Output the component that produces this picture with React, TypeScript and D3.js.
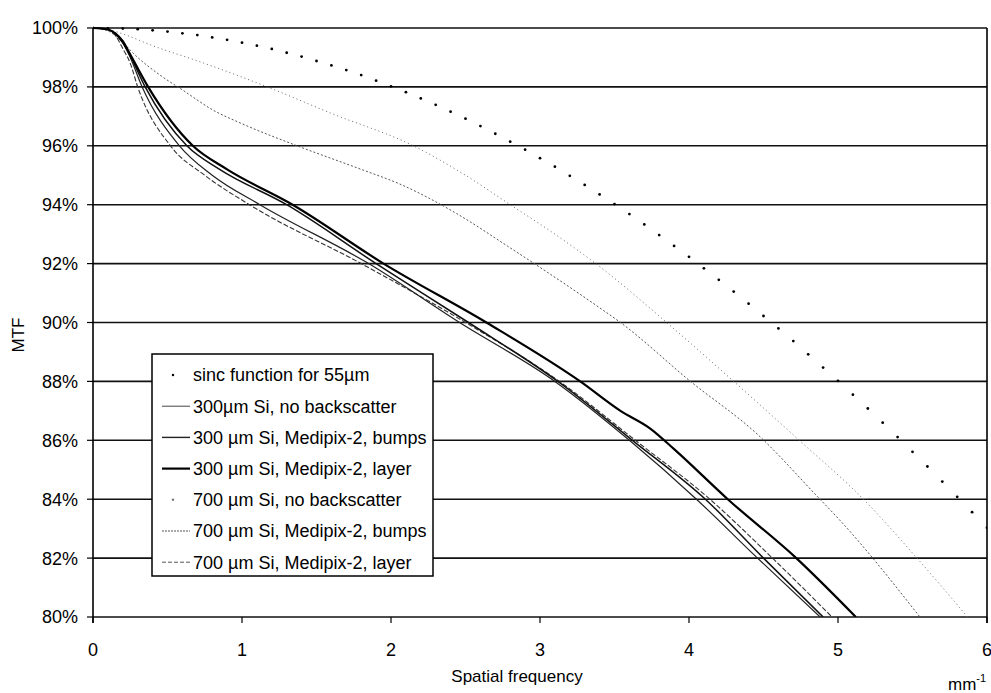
import React, { useEffect, useRef } from 'react'
import * as d3 from 'd3'

// axis ticks
const xTicks = [0, 1, 2, 3, 4, 5, 6]
const yTicks = [80, 82, 84, 86, 88, 90, 92, 94, 96, 98, 100]

// sinc function for 55um (dots)
const sincFreq = [0, 0.1, 0.2, 0.3, 0.4, 0.5, 0.6, 0.7, 0.8, 0.9, 1.0, 1.1, 1.2, 1.3, 1.4, 1.5, 1.6, 1.7, 1.8, 1.9,
  2.0, 2.1, 2.2, 2.3, 2.4, 2.5, 2.6, 2.7, 2.8, 2.9, 3.0, 3.1, 3.2, 3.3, 3.4, 3.5, 3.6, 3.7, 3.8, 3.9,
  4.0, 4.1, 4.2, 4.3, 4.4, 4.5, 4.6, 4.7, 4.8, 4.9, 5.0, 5.1, 5.2, 5.3, 5.4, 5.5, 5.6, 5.7, 5.8, 5.9, 6.0]
const sincMtf = [100, 99.99, 99.98, 99.96, 99.92, 99.88, 99.82, 99.76, 99.68, 99.6, 99.5, 99.4, 99.29, 99.16, 99.03, 98.88, 98.73, 98.57, 98.4, 98.21,
  98.02, 97.82, 97.61, 97.39, 97.16, 96.92, 96.67, 96.41, 96.14, 95.87, 95.58, 95.29, 94.98, 94.67, 94.35, 94.02, 93.68, 93.33, 92.97, 92.6,
  92.23, 91.84, 91.45, 91.05, 90.64, 90.22, 89.8, 89.37, 88.92, 88.47, 88.02, 87.55, 87.08, 86.6, 86.11, 85.61, 85.11, 84.6, 84.08, 83.56, 83.03]

// 300um Si, no backscatter
const si300NoBsFreq = [0, 0.1, 0.15, 0.2, 0.25, 0.33, 0.58, 0.8, 1.12, 1.85, 2.46, 3.1, 3.6, 4.05, 4.46, 4.88]
const si300NoBsMtf = [100, 99.95, 99.8, 99.5, 99.0, 98, 96, 95.0, 94, 92, 90, 88, 86, 84, 82, 80]

// 300um Si, Medipix-2, bumps
const si300BumpsFreq = [0, 0.1, 0.15, 0.2, 0.25, 0.35, 0.63, 0.85, 1.3, 1.9, 2.52, 3.12, 3.62, 4.11, 4.5, 4.9]
const si300BumpsMtf = [100, 99.95, 99.8, 99.5, 99.05, 98, 96, 95.2, 94, 92, 90, 88, 86, 84, 82, 80]

// 300um Si, Medipix-2, layer
const si300LayerFreq = [0, 0.1, 0.15, 0.2, 0.25, 0.37, 0.67, 0.9, 1.34, 1.95, 2.64, 3.27, 3.54, 3.74, 3.9, 4.26, 4.72, 5.12]
const si300LayerMtf = [100, 99.95, 99.82, 99.55, 99.1, 98, 96, 95.2, 94, 92, 90, 88, 87.0, 86.4, 85.7, 84, 82, 80]

// 700um Si, no backscatter
const si700NoBsFreq = [0, 0.1, 0.2, 0.4, 0.72, 1.17, 1.6, 2.15, 2.5, 2.8, 3.1, 3.4, 3.85, 4.3, 4.74, 5.17, 5.53, 5.87]
const si700NoBsMtf = [100, 99.95, 99.8, 99.4, 98.85, 98, 97.1, 96, 95, 94, 93, 91.9, 90, 88, 86, 84, 82, 80]

// 700um Si, Medipix-2, bumps
const si700BumpsFreq = [0, 0.1, 0.2, 0.3, 0.45, 0.6, 0.81, 1.0, 1.37, 1.8, 2.06, 2.44, 2.78, 3.4, 3.54, 4.01, 4.46, 4.86, 5.01, 5.55]
const si700BumpsMtf = [100, 99.9, 99.5, 99.0, 98.4, 97.9, 97.2, 96.75, 96, 95.2, 94.7, 93.7, 92.6, 90.5, 90, 88, 86.2, 84.1, 83.3, 80]

// 700um Si, Medipix-2, layer
const si700LayerFreq = [0, 0.1, 0.15, 0.2, 0.25, 0.3, 0.52, 0.75, 1.05, 1.8, 2.5, 3.13, 3.64, 4.14, 4.56, 4.96]
const si700LayerMtf = [100, 99.95, 99.75, 99.3, 98.8, 98, 96, 95.0, 94, 92, 90, 88, 86, 84, 82, 80]

const legendLabels = [
  'sinc function for 55\u00b5m',
  '300\u00b5m Si, no backscatter',
  '300 \u00b5m Si, Medipix-2, bumps',
  '300 \u00b5m Si, Medipix-2, layer',
  '700 \u00b5m Si, no backscatter',
  '700 \u00b5m Si, Medipix-2, bumps',
  '700 \u00b5m Si, Medipix-2, layer',
]

const FONT = '"Liberation Sans", Arial, Helvetica, sans-serif'

export default function App() {
  const ref = useRef<SVGSVGElement>(null)

  useEffect(() => {
    const svg = d3.select(ref.current)
    svg.selectAll('*').remove()

    const left = 93, right = 987, top = 28, bottom = 617

    const x = d3.scaleLinear().domain([0, 6]).range([left, right])
    const y = d3.scaleLinear().domain([80, 100]).range([bottom, top])

    svg.append('rect').attr('width', 991).attr('height', 693).attr('fill', '#fff')

    // horizontal grid
    svg.append('g')
      .selectAll('line')
      .data(yTicks)
      .join('line')
      .attr('x1', left).attr('x2', right)
      .attr('y1', d => y(d)).attr('y2', d => y(d))
      .attr('stroke', '#111')
      .attr('stroke-width', 1.6)

    // axes frame
    svg.append('line').attr('x1', left).attr('x2', left).attr('y1', top).attr('y2', bottom + 6)
      .attr('stroke', '#000').attr('stroke-width', 1.6)
    svg.append('line').attr('x1', right).attr('x2', right).attr('y1', top).attr('y2', bottom + 6)
      .attr('stroke', '#000').attr('stroke-width', 1.6)

    // y ticks + labels
    const yAxis = svg.append('g')
    yAxis.selectAll('line')
      .data(yTicks)
      .join('line')
      .attr('x1', left - 6).attr('x2', left)
      .attr('y1', d => y(d)).attr('y2', d => y(d))
      .attr('stroke', '#000').attr('stroke-width', 1.2)
    yAxis.selectAll('text')
      .data(yTicks)
      .join('text')
      .attr('x', left - 15)
      .attr('y', d => y(d))
      .attr('dy', '0.36em')
      .attr('text-anchor', 'end')
      .style('font-family', FONT)
      .style('font-size', '18px')
      .text(d => d + '%')

    // x ticks + labels
    const xAxis = svg.append('g')
    xAxis.selectAll('line')
      .data(xTicks)
      .join('line')
      .attr('x1', d => x(d)).attr('x2', d => x(d))
      .attr('y1', bottom).attr('y2', bottom + 6)
      .attr('stroke', '#000').attr('stroke-width', 1.2)
    xAxis.selectAll('text')
      .data(xTicks)
      .join('text')
      .attr('x', d => x(d))
      .attr('y', bottom + 39)
      .attr('text-anchor', 'middle')
      .style('font-family', FONT)
      .style('font-size', '18px')
      .text(d => d)

    svg.append('text')
      .attr('x', 517).attr('y', 682)
      .attr('text-anchor', 'middle')
      .style('font-family', FONT)
      .style('font-size', '17px')
      .text('Spatial frequency')

    const unit = svg.append('text')
      .attr('x', 948).attr('y', 690)
      .style('font-family', FONT)
      .style('font-size', '17px')
    unit.append('tspan').text('mm')
    unit.append('tspan').attr('dy', -8).style('font-size', '11px').text('-1')

    svg.append('text')
      .attr('transform', 'translate(24,' + 335 + ') rotate(-90)')
      .attr('text-anchor', 'middle')
      .style('font-family', FONT)
      .style('font-size', '17px')
      .text('MTF')

    // curves
    const plot = svg.append('g')
    plot.append('clipPath').attr('id', 'plotclip')
      .append('rect').attr('x', left).attr('y', top - 2).attr('width', right - left).attr('height', bottom - top + 2)
    const curves = plot.append('g').attr('clip-path', 'url(#plotclip)')

    const line = d3.line<[number, number]>()
      .x(d => x(d[0]))
      .y(d => y(d[1]))
      .curve(d3.curveMonotoneX)

    const series = [
      { f: si700NoBsFreq, m: si700NoBsMtf, stroke: '#666', width: 1, dash: '1 3' },
      { f: si700BumpsFreq, m: si700BumpsMtf, stroke: '#555', width: 1, dash: '2 2' },
      { f: si700LayerFreq, m: si700LayerMtf, stroke: '#333', width: 1.1, dash: '5 2' },
      { f: si300NoBsFreq, m: si300NoBsMtf, stroke: '#222', width: 1.2, dash: null },
      { f: si300BumpsFreq, m: si300BumpsMtf, stroke: '#111', width: 1.5, dash: null },
      { f: si300LayerFreq, m: si300LayerMtf, stroke: '#000', width: 2.2, dash: null },
    ]

    series.forEach(s => {
      const pts = s.f.map((f, i) => [f, s.m[i]] as [number, number])
      curves.append('path')
        .datum(pts)
        .attr('fill', 'none')
        .attr('stroke', s.stroke)
        .attr('stroke-width', s.width)
        .attr('stroke-dasharray', s.dash)
        .attr('d', line)
    })

    curves.selectAll('circle.sinc')
      .data(sincFreq)
      .join('circle')
      .attr('class', 'sinc')
      .attr('cx', d => x(d))
      .attr('cy', (d, i) => y(sincMtf[i]))
      .attr('r', 1.4)
      .attr('fill', '#000')

    // legend
    const lg = svg.append('g')
    lg.append('rect')
      .attr('x', 152).attr('y', 354).attr('width', 281).attr('height', 222)
      .attr('fill', '#fff').attr('stroke', '#000').attr('stroke-width', 1.5)
    const legendStyles = [
      { type: 'dot', stroke: '#000', width: 0, dash: null },
      { type: 'line', stroke: '#444', width: 1, dash: null },
      { type: 'line', stroke: '#222', width: 1.4, dash: null },
      { type: 'line', stroke: '#000', width: 2.2, dash: null },
      { type: 'dot', stroke: '#777', width: 0, dash: null },
      { type: 'line', stroke: '#555', width: 1, dash: '2 1' },
      { type: 'line', stroke: '#555', width: 1, dash: '4 2' },
    ]
    legendLabels.forEach((label, i) => {
      const cy = 375 + i * 31.2
      const st = legendStyles[i]
      if (st.type === 'dot') {
        lg.append('circle').attr('cx', 173).attr('cy', cy).attr('r', 1.2).attr('fill', st.stroke)
      } else {
        lg.append('line')
          .attr('x1', 162).attr('x2', 190)
          .attr('y1', cy).attr('y2', cy)
          .attr('stroke', st.stroke)
          .attr('stroke-width', st.width)
          .attr('stroke-dasharray', st.dash)
      }
      lg.append('text')
        .attr('x', 193).attr('y', cy)
        .attr('dy', '0.36em')
        .style('font-family', FONT)
        .style('font-size', '18px')
        .text(label)
    })
  }, [])

  return (
    <svg ref={ref} width={991} height={693}
      style={{ position: 'absolute', left: 0, top: 0, display: 'block' }} />
  )
}
